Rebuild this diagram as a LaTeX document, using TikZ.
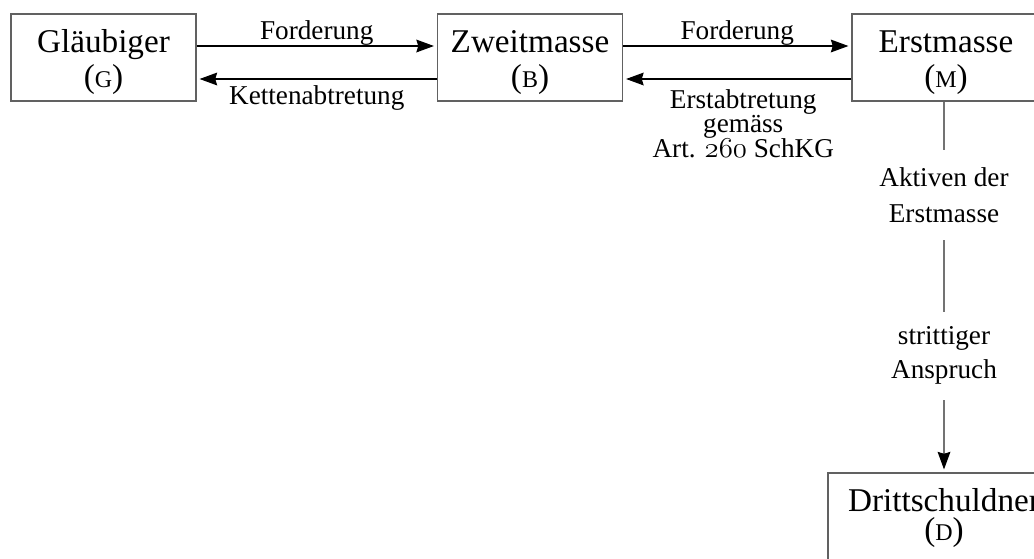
\documentclass[tikz,border=0pt]{standalone}
\usepackage{fontspec}
\setmainfont{Liberation Serif}
\usetikzlibrary{arrows.meta}
\newcommand\smc[1]{{\fontsize{12}{12}\selectfont #1}}
\newcommand\osnum[1]{{\usefont{OML}{cmm}{m}{it}#1}}
\newcommand\tightls{\lineskiplimit-50pt\relax}
\newcommand\up{\rule{0pt}{16pt}}
\tikzset{
  party/.style={draw=black!62, line width=0.6pt, rectangle, minimum width=92.5pt,
    minimum height=43.5pt, inner sep=0pt, align=center,
    font=\fontsize{16.6}{17.8}\selectfont\tightls},
  lbl/.style={inner sep=0pt, align=center},
  tip/.style={-{Stealth[length=8.8pt,width=6.4pt,inset=1pt,color=black]}, shorten >=1.5pt},
  flow/.style={line width=0.55pt, tip},
  small/.style={font=\fontsize{13.6}{#1}\selectfont\tightls},
  small/.default=16
}
\begin{document}
\begin{tikzpicture}[x=0.5pt,y=-0.5pt]
\clip (0,0) rectangle (1034,558);
\node[party] (G) at (103.5,57.5) {\up Gläubiger\\(\smc{G})};
\node[party] (B) at (530,57.5) {\up Zweitmasse\\(\smc{B})};
\node[party, minimum width=94pt] (M) at (946,57.5) {\up Erstmasse\\(\smc{M})};
\node[party, minimum width=116pt, font=\fontsize{16.6}{14.5}\selectfont\tightls] (D) at (944,516.5) {\rule{0pt}{13pt}Drittschuldner\\(\smc{D})};

\draw[flow] ([yshift=5.75pt]G.east) -- node[lbl, small, anchor=base, yshift=3.2pt] (f1) {Forderung} ([yshift=5.75pt]B.west);
\draw[flow] ([yshift=-10.75pt]B.west) -- node[lbl, small, anchor=base, yshift=-12.5pt] (k1) {Kettenabtretung} ([yshift=-10.75pt]G.east);

\draw[flow] ([yshift=5.75pt]B.east) -- node[lbl, small, anchor=base, yshift=3.2pt] (f2) {Forderung} ([yshift=5.75pt]M.west);
\draw[flow] ([yshift=-10.75pt]M.west) -- node[lbl, small=12.2, anchor=north, yshift=-5pt, xshift=3pt] (e1) {Erstabtretung\\gemäss\\Art. \osnum{260} SchKG} ([yshift=-10.75pt]B.east);

\draw[flow, draw=black!55] (D.north |- M.south) -- node[lbl, small=18, pos=0.2527, fill=white, inner ysep=8.75pt, text depth=0pt] (a1) {Aktiven der\\Erstmasse}
  node[lbl, small=17, pos=0.6855, fill=white, inner ysep=7.5pt] (s1) {strittiger\\Anspruch} (D.north);
\end{tikzpicture}
\end{document}
